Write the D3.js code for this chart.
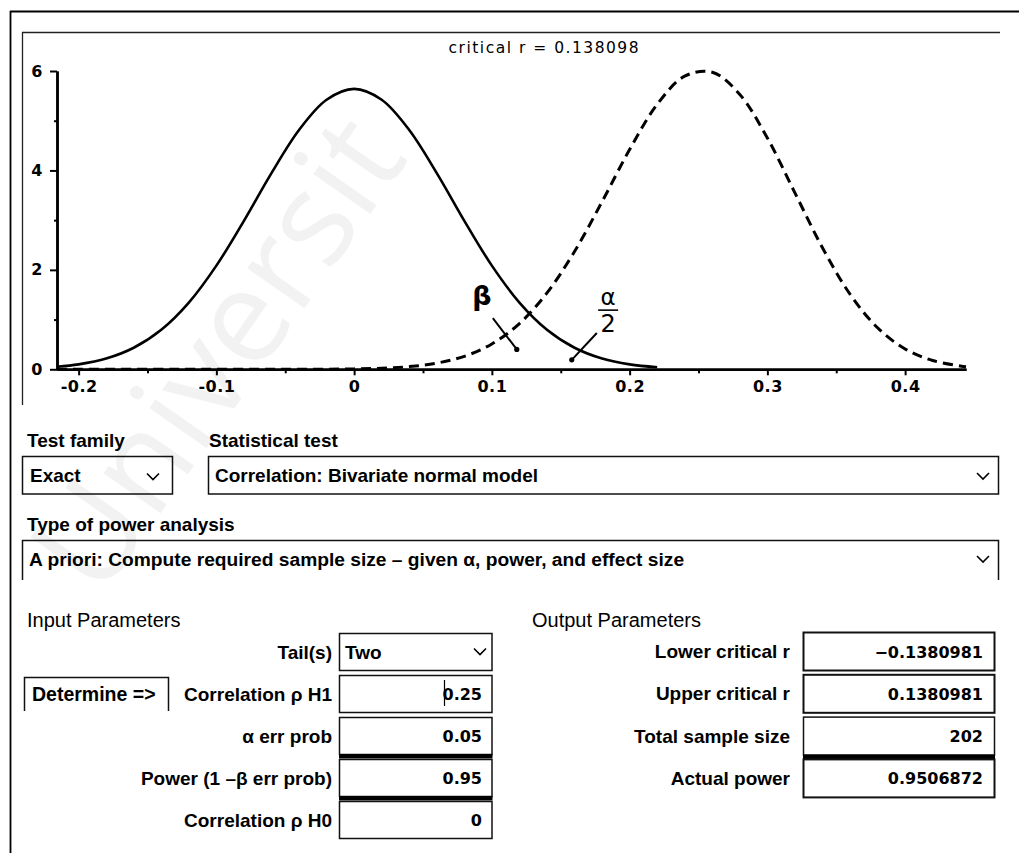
<!DOCTYPE html>
<html><head><meta charset="utf-8">
<script src="https://cdn.jsdelivr.net/npm/d3@7"></script>
<style>
body{margin:0;background:#fff}
svg{display:block}
</style>
</head><body>
<svg id="chart" width="1019" height="853"></svg>
<script>
// ---------------- data ----------------
const rH0 = [-0.2157,-0.20,-0.18,-0.16,-0.14,-0.12,-0.10,-0.08,-0.06,-0.04,-0.02,0,0.02,0.04,0.06,0.08,0.10,0.12,0.14,0.16,0.18,0.20,0.22];
const densityH0 = [0.050,0.099,0.216,0.433,0.795,1.342,2.085,2.987,3.946,4.813,5.421,5.640,5.421,4.813,3.946,2.987,2.085,1.342,0.795,0.433,0.216,0.099,0.042];
const rH1 = [-0.2157,-0.15,-0.10,-0.06,-0.04,-0.02,0,0.02,0.04,0.06,0.08,0.10,0.12,0.14,0.16,0.18,0.20,0.22,0.24,0.26,0.28,0.30,0.32,0.34,0.36,0.38,0.40,0.42,0.44,0.4442];
const densityH1 = [0,0,0,0.0002,0.0009,0.0029,0.0083,0.022,0.054,0.124,0.261,0.510,0.920,1.536,2.369,3.371,4.419,5.329,5.896,5.975,5.528,4.652,3.550,2.444,1.512,0.835,0.409,0.177,0.067,0.050];
const xTicks = [-0.2,-0.1,0,0.1,0.2,0.3,0.4];
const xMinorTicks = [-0.15,-0.05,0.05,0.15,0.25,0.35];
const yTicks = [0,2,4,6];
const yMinorTicks = [1,3,5];
const criticalR = 0.138098;
const betaPointer = [[0.1007,1.03],[0.1181,0.40]];
const betaLabel = [0.0927,1.49];
const alphaPointer = [[0.1762,0.73],[0.158,0.19]];
const alphaLabel = [0.1844,1.19];

const testFamily = "Exact";
const statisticalTest = "Correlation: Bivariate normal model";
const analysisType = "A priori: Compute required sample size \u2013 given \u03b1, power, and effect size";
const inputLabels = ["Tail(s)","Correlation \u03c1 H1","\u03b1 err prob","Power (1 \u2013\u03b2 err prob)","Correlation \u03c1 H0"];
const inputValues = ["Two","0.25","0.05","0.95","0"];
const outputLabels = ["Lower critical r","Upper critical r","Total sample size","Actual power"];
const outputValues = ["\u22120.1380981","0.1380981","202","0.9506872"];

// ---------------- setup ----------------
const svg = d3.select("#chart");
const LAB = "'Liberation Sans', Arial, sans-serif";
const NUM = "'DejaVu Sans', sans-serif";

// watermark
svg.append("text")
  .attr("transform","translate(100,600) rotate(-55)")
  .attr("font-family","'Open Sans', sans-serif")
  .attr("font-size",130)
  .attr("fill","#f2f2f2")
  .text("Universit");

// frames
svg.append("line").attr("x1",10.5).attr("y1",11).attr("x2",10.5).attr("y2",853).attr("stroke","#000").attr("stroke-width",1.8);
svg.append("line").attr("x1",10).attr("y1",11.5).attr("x2",1019).attr("y2",11.5).attr("stroke","#000").attr("stroke-width",1.8);
svg.append("line").attr("x1",22.5).attr("y1",32).attr("x2",22.5).attr("y2",405).attr("stroke","#222").attr("stroke-width",1.3);
svg.append("line").attr("x1",22).attr("y1",32.5).attr("x2",1000).attr("y2",32.5).attr("stroke","#222").attr("stroke-width",1.3);

// scales
const x = d3.scaleLinear().domain([-0.2157,0.4442]).range([57,966]);
const y = d3.scaleLinear().domain([0,6]).range([369.3,71]);

// axes
const gx = svg.append("g").attr("transform",`translate(0,${y(0)})`)
  .call(d3.axisBottom(x).tickValues(xTicks).tickSize(6).tickSizeOuter(0).tickPadding(5).tickFormat(d=>String(d)));
const gxm = svg.append("g").attr("transform",`translate(0,${y(0)})`)
  .call(d3.axisBottom(x).tickValues(xMinorTicks).tickSize(4).tickSizeOuter(0).tickFormat(""));
const gy = svg.append("g").attr("transform",`translate(${x.range()[0]},0)`)
  .call(d3.axisLeft(y).tickValues(yTicks).tickSize(7).tickSizeOuter(0).tickPadding(7).tickFormat(d=>String(d)));
const gym = svg.append("g").attr("transform",`translate(${x.range()[0]},0)`)
  .call(d3.axisLeft(y).tickValues(yMinorTicks).tickSize(3).tickSizeOuter(0).tickFormat(""));
[gx,gxm,gy,gym].forEach(g=>{
  g.select(".domain").attr("stroke","#000").attr("stroke-width",2.5);
  g.selectAll(".tick line").attr("stroke","#000").attr("stroke-width",2);
  g.selectAll(".tick text").attr("font-family",NUM).attr("font-weight","bold").attr("font-size",16).attr("fill","#000").attr("letter-spacing",0.5);
});

// title
svg.append("text").attr("x",x(criticalR)).attr("y",53)
  .attr("text-anchor","middle").attr("font-family",NUM).attr("font-size",15.5).attr("letter-spacing",1.5)
  .text("critical r = " + criticalR);

// curves
const line = d3.line().x(d=>x(d[0])).y(d=>y(d[1])).curve(d3.curveCatmullRom);
svg.append("path").datum(rH1.map((r,i)=>[r,densityH1[i]]))
  .attr("d",line).attr("fill","none").attr("stroke","#000").attr("stroke-width",3).attr("stroke-dasharray","10,6");
svg.append("path").datum(rH0.map((r,i)=>[r,densityH0[i]]))
  .attr("d",line).attr("fill","none").attr("stroke","#000").attr("stroke-width",2.6);

// annotations
function pointer(p){
  svg.append("line").attr("x1",x(p[0][0])).attr("y1",y(p[0][1])).attr("x2",x(p[1][0])).attr("y2",y(p[1][1]))
    .attr("stroke","#000").attr("stroke-width",2);
  svg.append("circle").attr("cx",x(p[1][0])).attr("cy",y(p[1][1])).attr("r",2.6).attr("fill","#000");
}
pointer(betaPointer);
pointer(alphaPointer);
svg.append("text").attr("x",x(betaLabel[0])).attr("y",y(betaLabel[1])).attr("text-anchor","middle")
  .attr("dominant-baseline","central").attr("font-family",NUM).attr("font-weight","bold").attr("font-size",27).text("\u03b2");
const ay = y(alphaLabel[1]);
svg.append("text").attr("x",x(alphaLabel[0])).attr("y",ay-5).attr("text-anchor","middle")
  .attr("font-family",NUM).attr("font-size",23).text("\u03b1");
svg.append("line").attr("x1",x(alphaLabel[0])-10).attr("x2",x(alphaLabel[0])+10)
  .attr("y1",ay).attr("y2",ay).attr("stroke","#000").attr("stroke-width",1.6);
svg.append("text").attr("x",x(alphaLabel[0])).attr("y",ay+22).attr("text-anchor","middle")
  .attr("font-family",NUM).attr("font-size",24).text("2");

// ---------------- form ----------------
function label(tx,ty,str,opt={}){
  return svg.append("text").attr("x",tx).attr("y",ty)
    .attr("text-anchor",opt.anchor||"start")
    .attr("font-family",opt.family||LAB)
    .attr("font-weight",opt.weight||"bold")
    .attr("font-size",opt.size||19)
    .attr("fill","#000").text(str);
}
function box(bx,by,bw,bh,sw){
  svg.append("rect").attr("x",bx).attr("y",by).attr("width",bw).attr("height",bh)
    .attr("fill","none").attr("stroke","#111").attr("stroke-width",sw||1.5);
}
function chevron(cx,cy){
  svg.append("path").attr("d",`M${cx-6},${cy-3}L${cx},${cy+3}L${cx+6},${cy-3}`)
    .attr("fill","none").attr("stroke","#000").attr("stroke-width",1.6);
}

label(27,447,"Test family");
label(209,447,"Statistical test");
box(22.5,456.5,150,37.5); label(30,481.5,testFamily); chevron(153,476.5);
box(208.5,456.5,790,37.5); label(215,481.5,statisticalTest); chevron(983,476);

label(27,530.5,"Type of power analysis");
svg.append("path").attr("d","M22.5,580V540.5H998.5V580").attr("fill","none").attr("stroke","#111").attr("stroke-width",1.5);
label(29,566,analysisType,{size:19.2}); chevron(983,559);

label(27,626.5,"Input Parameters",{weight:"normal",size:20});
label(532,626.5,"Output Parameters",{weight:"normal",size:20});

// Determine button
svg.append("path").attr("d","M24.5,711V677.5H168.5V711").attr("fill","none").attr("stroke","#111").attr("stroke-width",1.5);
label(32,701,"Determine =>",{size:19.5});

// input rows
const inTop = i => 633 + i*42;
inputLabels.forEach((l,i)=>{
  const t = inTop(i), h = 37;
  label(332,t+h/2+7,l,{anchor:"end"});
  box(339.5,t+0.5,152.5,h);
  if(i===0){
    label(345,t+h/2+7,inputValues[i]);
    chevron(480,t+h/2);
  } else {
    label(482,t+h/2+6.5,inputValues[i],{anchor:"end",family:NUM,size:16});
  }
  if(i===2||i===3){
    svg.append("rect").attr("x",339).attr("y",t+h).attr("width",153.5).attr("height",4.5).attr("fill","#000");
  }
});
// text cursor
svg.append("line").attr("x1",444.5).attr("x2",444.5).attr("y1",inTop(1)+5).attr("y2",inTop(1)+31).attr("stroke","#000").attr("stroke-width",1.2);

// output rows
const outTop = i => 632 + i*42.3;
outputLabels.forEach((l,i)=>{
  const t = outTop(i), h = 38;
  label(790,t+h/2+7,l,{anchor:"end"});
  box(803.5,t+0.5,191,h, (i===0||i===1||i===3)?2:1.5);
  label(983,t+h/2+6.5,outputValues[i],{anchor:"end",family:NUM,size:16});
  if(i===2){
    svg.append("rect").attr("x",803).attr("y",t+h).attr("width",192).attr("height",4.5).attr("fill","#000");
  }
});
</script>
</body></html>
